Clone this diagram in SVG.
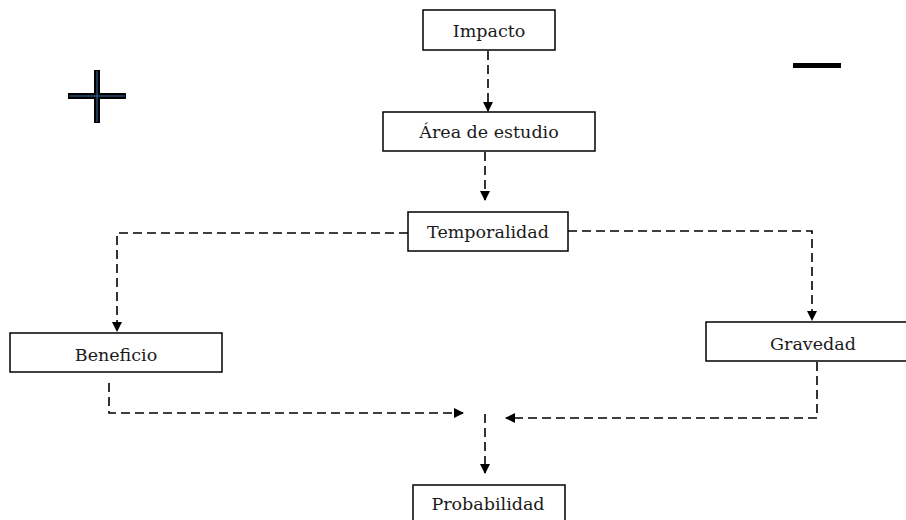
<svg xmlns="http://www.w3.org/2000/svg" width="906" height="520" viewBox="0 0 906 520">
<style>
.box{fill:#fff;stroke:#000;stroke-width:1.5}
.lbl{font-family:"DejaVu Serif","Liberation Serif",serif;font-size:17.5px;fill:#1a1a1a;text-anchor:middle}
.c{fill:none;stroke:#000;stroke-width:1.6;stroke-dasharray:9 5}
</style>
<defs>
<marker id="ah" markerWidth="10" markerHeight="10" refX="9" refY="5" orient="auto" markerUnits="userSpaceOnUse">
<path d="M0,0 L10,5 L0,10 Z" fill="#000"/>
</marker>
</defs>
<rect width="906" height="520" fill="#fff"/>
<g id="plus">
<path d="M97,70 V123 M68,96 H126" stroke="#000" stroke-width="6"/>
<path d="M97,71 V122 M69,96 H125" stroke="#3a6ea8" stroke-width="1"/>
</g>
<g id="minus"><path d="M793,65.5 H841" stroke="#000" stroke-width="5"/></g>
<g id="connectors">
<path class="c" d="M488,51 V111" marker-end="url(#ah)"/>
<path class="c" d="M485,152 V200" marker-end="url(#ah)"/>
<path class="c" d="M408,233 H117 V331" marker-end="url(#ah)"/>
<path class="c" d="M568,231 H812 V320" marker-end="url(#ah)"/>
<path class="c" d="M109,383 V413 H463" marker-end="url(#ah)"/>
<path class="c" d="M817,362 V418 H506" marker-end="url(#ah)"/>
<path class="c" d="M485,414 V473" marker-end="url(#ah)"/>
</g>
<g id="impacto"><rect class="box" x="423" y="10" width="132" height="40"/><text class="lbl" x="489" y="37">Impacto</text></g>
<g id="area"><rect class="box" x="383" y="112" width="212" height="39"/><text class="lbl" x="489" y="138">Área de estudio</text></g>
<g id="temporalidad"><rect class="box" x="408" y="212" width="160" height="39"/><text class="lbl" x="488" y="238">Temporalidad</text></g>
<g id="beneficio"><rect class="box" x="10" y="333" width="212" height="39"/><text class="lbl" x="116" y="361">Beneficio</text></g>
<g id="gravedad"><rect class="box" x="706" y="322" width="202" height="39"/><text class="lbl" x="813" y="350">Gravedad</text></g>
<g id="probabilidad"><rect class="box" x="413" y="485" width="152" height="40"/><text class="lbl" x="488" y="510">Probabilidad</text></g>
</svg>
